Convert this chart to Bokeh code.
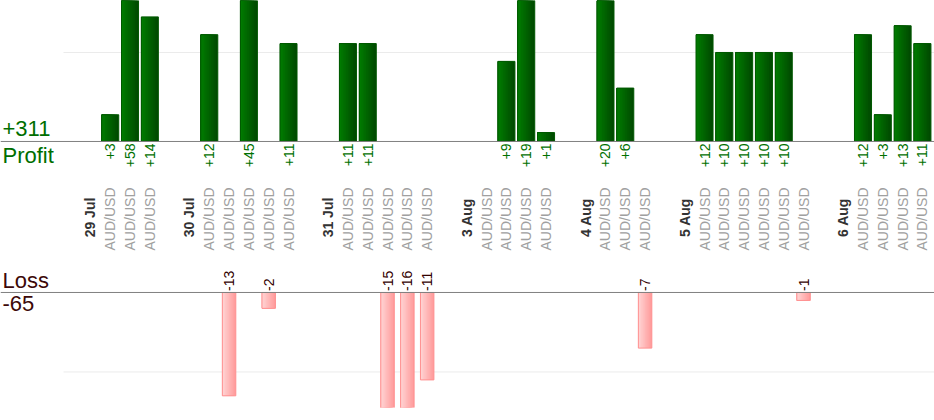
import numpy as np
from bokeh.plotting import figure
from bokeh.models import Range1d
from bokeh.embed import file_html
from bokeh.resources import INLINE
from bokeh.core.properties import value

# ---------------- data ----------------
dates = ["29 Jul", "30 Jul", "31 Jul", "3 Aug", "4 Aug", "5 Aug", "6 Aug"]
pair = "AUD/USD"
res_29jul = [3, 58, 14]
res_30jul = [12, -13, 45, -2, 11]
res_31jul = [11, 11, -15, -16, -11]
res_3aug = [None, 9, 19, 1]
res_4aug = [20, 6, -7]
res_5aug = [12, 10, 10, 10, 10, -1]
res_6aug = [12, 3, 13, 11]
days = [res_29jul, res_30jul, res_31jul, res_3aug, res_4aug, res_5aug, res_6aug]
grid_profit = [10]
grid_loss = [-10]

# ---------------- slots ----------------
date_x, date_lbl = [], []
pair_x = []
prof_x, prof_v = [], []
loss_x, loss_v = [], []
i = 0
for d, res in zip(dates, days):
    date_x.append(i)
    date_lbl.append(d)
    for j, r in enumerate(res):
        x = i + 1 + j
        pair_x.append(x)
        if r is None:
            continue
        if r > 0:
            prof_x.append(x); prof_v.append(r)
        elif r < 0:
            loss_x.append(x); loss_v.append(r)
    i += len(res) + 2

total_profit = sum(prof_v)
total_loss = sum(loss_v)

# ---------------- figure ----------------
FIG_W, FIG_H = 934, 420
S = FIG_H / 420.0
FONT = value("Liberation Sans")
p = figure(width=FIG_W, height=FIG_H, output_backend="svg", toolbar_location=None,
           x_range=Range1d(-4.5384, 42.6093), y_range=Range1d(-29.89, 15.84),
           min_border_left=0, min_border_right=0, min_border_top=0,
           min_border_bottom=round(13 * S),
           x_axis_location=None, y_axis_location=None, outline_line_color=None,
           background_fill_color="white", border_fill_color="white")
p.grid.visible = False
p.extra_x_ranges = {"px": Range1d(0, 934)}
p.extra_y_ranges = {"px": Range1d(407, 0), "loss": Range1d(-14.47, 36.73)}

# grid lines
p.segment(x0=[63] * len(grid_profit), x1=[934] * len(grid_profit), y0=grid_profit, y1=grid_profit,
          x_range_name="px", line_color="#ebebeb", line_width=1)
p.segment(x0=[63] * len(grid_loss), x1=[934] * len(grid_loss), y0=grid_loss, y1=grid_loss,
          x_range_name="px", y_range_name="loss", line_color="#ebebeb", line_width=1)


def lerp(c1, c2, t):
    a = [int(c1[k:k + 2], 16) for k in (1, 3, 5)]
    b = [int(c2[k:k + 2], 16) for k in (1, 3, 5)]
    return "#%02x%02x%02x" % tuple(round(a[m] + (b[m] - a[m]) * t) for m in range(3))


def gradient_bars(xs, vs, w, c_left, c_right, c_line, yname="default"):
    # stacked, left-anchored bars of decreasing width: no seams between strips
    N = 10
    for k in range(N):
        wk = w * (N - k) / N
        off = -w / 2 + wk / 2
        p.vbar(x=[x + off for x in xs], width=wk, bottom=0, top=vs,
               fill_color=lerp(c_right, c_left, k / (N - 1)), line_color=None,
               y_range_name=yname)
    p.vbar(x=xs, width=w, bottom=0, top=vs, fill_color=None, line_color=c_line,
           line_width=1, y_range_name=yname)


gradient_bars(prof_x, prof_v, 0.86, "#007a00", "#004a00", "#005800")
gradient_bars(loss_x, loss_v, 0.68, "#ffd2d2", "#ff9c9c", "#ff9090", "loss")

# baselines
p.segment(x0=[0], x1=[934], y0=[0], y1=[0], x_range_name="px", line_color="#808080", line_width=1)
p.segment(x0=[0], x1=[934], y0=[0], y1=[0], x_range_name="px", y_range_name="loss",
          line_color="#808080", line_width=1)

fs_small = "%.1fpx" % (14 * S)
fs_big = "%.1fpx" % (22 * S)

# value labels
p.text(x=prof_x, y=[143] * len(prof_x), text=["+%d" % v for v in prof_v], y_range_name="px",
       angle=np.pi / 2, text_align="right", text_baseline="middle",
       text_font=FONT, text_font_size=fs_small, text_color="#007000")
p.text(x=loss_x, y=[290.5] * len(loss_x), text=["%d" % v for v in loss_v], y_range_name="px",
       angle=np.pi / 2, text_align="left", text_baseline="middle",
       text_font=FONT, text_font_size=fs_small, text_color="#330000")

# category labels
p.text(x=pair_x, y=[218.5] * len(pair_x), text=[pair] * len(pair_x), y_range_name="px",
       angle=np.pi / 2, text_align="center", text_baseline="middle",
       text_font=FONT, text_font_size=fs_small, text_color="#a0a0a0")
p.text(x=date_x, y=[217] * len(date_x), text=date_lbl, y_range_name="px",
       angle=np.pi / 2, text_align="center", text_baseline="middle",
       text_font=FONT, text_font_size=fs_small, text_font_style="bold", text_color="#333333")

# summary labels (top-anchored)
p.text(x=[2, 2], y=[120.5, 142], text=["+%d" % total_profit, "Profit"],
       x_range_name="px", y_range_name="px", text_align="left", text_baseline="top",
       text_font=FONT, text_font_size=fs_big, text_color="#006e00")
p.text(x=[2, 2], y=[267.5, 295.5], text=["Loss", "%d" % total_loss],
       x_range_name="px", y_range_name="px", text_align="left", text_baseline="top",
       text_font=FONT, text_font_size=fs_big, text_color="#3c0808")

open("out.html", "w").write(file_html(p, INLINE))
